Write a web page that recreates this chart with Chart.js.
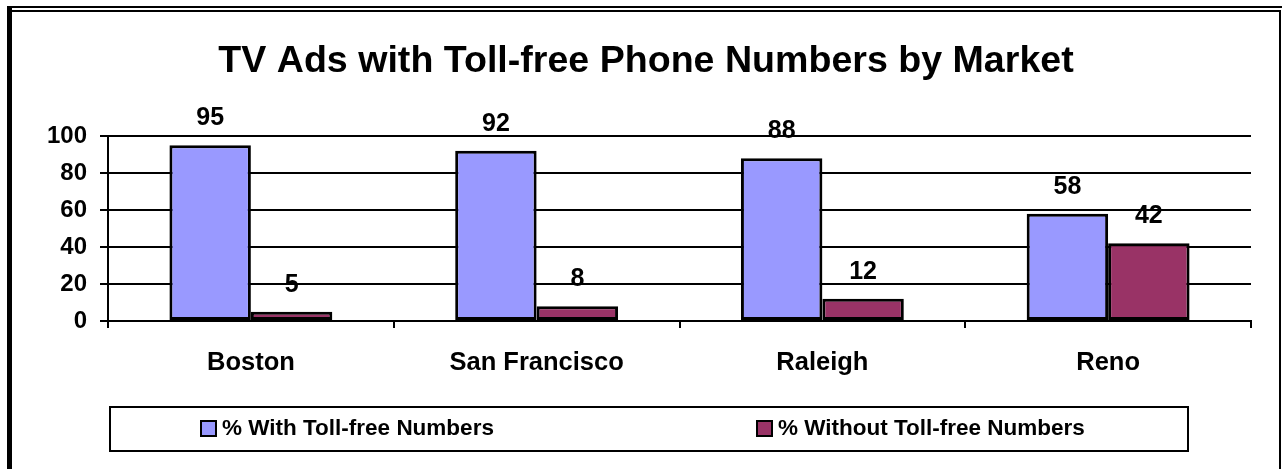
<!DOCTYPE html>
<html>
<head>
<meta charset="utf-8">
<script src="https://cdn.jsdelivr.net/npm/chart.js@4.4.1/dist/chart.umd.min.js"></script>
<style>
  html, body { margin:0; padding:0; background:#fff; }
  #wrap { position:relative; width:1282px; height:469px; overflow:hidden; }
  canvas { position:absolute; left:0; top:0; }
  .ln { position:absolute; background:#000; }
</style>
</head>
<body>
<div id="wrap">
  <canvas id="c" width="1282" height="469"></canvas>
  <div class="ln" style="left:7px;top:6px;width:1275px;height:2px;"></div>
  <div class="ln" style="left:12px;top:10px;width:1269px;height:2px;"></div>
  <div class="ln" style="left:7px;top:6px;width:5px;height:463px;"></div>
  <div class="ln" style="left:1279px;top:10px;width:2px;height:459px;"></div>
</div>
<script>
const titleText = "TV Ads with Toll-free Phone Numbers by Market";
const categories = ["Boston", "San Francisco", "Raleigh", "Reno"];
const withTollFree = [95, 92, 88, 58];
const withoutTollFree = [5, 8, 12, 42];
const seriesNames = ["% With Toll-free Numbers", "% Without Toll-free Numbers"];
const yTicks = [0, 20, 40, 60, 80, 100];

const FONT = '"Liberation Sans", Arial, sans-serif';

const labelsPlugin = {
  id: 'valueLabels',
  afterDatasetsDraw(chart) {
    const ctx = chart.ctx;
    ctx.save();
    ctx.font = 'bold 25px ' + FONT;
    ctx.fillStyle = '#000';
    ctx.textAlign = 'center';
    ctx.textBaseline = 'middle';
    chart.data.datasets.forEach((ds, di) => {
      const meta = chart.getDatasetMeta(di);
      meta.data.forEach((bar, i) => {
        ctx.fillText(String(ds.data[i]), bar.x, bar.y - 27);
      });
    });
    ctx.restore();
  }
};

const titleLegendPlugin = {
  id: 'titleLegend',
  afterDraw(chart) {
    const ctx = chart.ctx;
    ctx.save();
    ctx.font = 'bold 37.6px ' + FONT;
    ctx.fillStyle = '#000';
    ctx.textAlign = 'center';
    ctx.textBaseline = 'middle';
    ctx.fillText(titleText, 646, 62);
    ctx.lineWidth = 2;
    ctx.strokeStyle = '#000';
    ctx.strokeRect(110, 407, 1078, 44);
    const items = [
      {x: 201, text: seriesNames[0], color: chart.data.datasets[0].backgroundColor},
      {x: 757, text: seriesNames[1], color: chart.data.datasets[1].backgroundColor}
    ];
    ctx.font = 'bold 22.5px ' + FONT;
    ctx.textAlign = 'left';
    items.forEach(it => {
      ctx.fillStyle = it.color;
      ctx.fillRect(it.x, 421, 15, 15);
      ctx.strokeRect(it.x, 421, 15, 15);
      ctx.fillStyle = '#000';
      ctx.fillText(it.text, it.x + 21, 429);
    });
    ctx.restore();
  }
};

new Chart(document.getElementById('c'), {
  type: 'bar',
  data: {
    labels: categories,
    datasets: [
      { label: seriesNames[0], data: withTollFree, backgroundColor: '#9999FF', borderColor: '#000', borderWidth: 3, borderSkipped: false },
      { label: seriesNames[1], data: withoutTollFree, backgroundColor: '#993366', borderColor: '#000', borderWidth: 3, borderSkipped: false }
    ]
  },
  options: {
    responsive: false,
    animation: false,
    layout: { padding: { left: 0, right: 31, top: 136, bottom: 88 } },
    plugins: { legend: { display: false }, title: { display: false }, tooltip: { enabled: false } },
    datasets: { bar: { categoryPercentage: 0.57, barPercentage: 1.0 } },
    scales: {
      x: {
        grid: { display: true, drawOnChartArea: false, drawTicks: true, tickLength: 7, color: '#000', lineWidth: 2, offset: true },
        border: { display: true, color: '#000', width: 2 },
        ticks: { color: '#000', font: { family: FONT, weight: 'bold', size: 25.5 }, padding: 20, maxRotation: 0 },
        afterFit(s) { s.height = 60; }
      },
      y: {
        min: 0, max: 100,
        afterBuildTicks(s) { s.ticks = yTicks.map(v => ({ value: v })); },
        grid: { color: '#000', lineWidth: 2, tickLength: 8, drawTicks: true },
        border: { display: true, color: '#000', width: 2 },
        ticks: { color: '#000', font: { family: FONT, weight: 'bold', size: 24 }, padding: 13 },
        afterFit(s) { s.width = 108; }
      }
    }
  },
  plugins: [labelsPlugin, titleLegendPlugin]
});
</script>
</body>
</html>
